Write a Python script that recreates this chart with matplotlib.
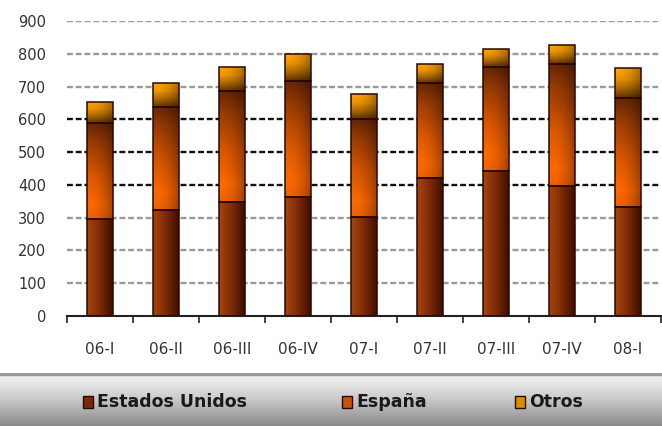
import numpy as np
import matplotlib
matplotlib.use("Agg")
import matplotlib.pyplot as plt
from matplotlib.colors import LinearSegmentedColormap
import matplotlib.patches as patches

# data (thousands)
quarters = ["06-I", "06-II", "06-III", "06-IV", "07-I", "07-II", "07-III", "07-IV", "08-I"]
estados_unidos = [296, 323, 349, 364, 303, 420, 442, 397, 333]
espana = [292, 315, 337, 353, 298, 292, 317, 373, 332]
otros = [66, 72, 73, 82, 75, 57, 55, 56, 91]
series_names = ["Estados Unidos", "España", "Otros"]
yticks = [0, 100, 200, 300, 400, 500, 600, 700, 800, 900]

W, H = 662, 426
fig = plt.figure(figsize=(W / 100, H / 100), dpi=100)
ax = fig.add_axes([67 / W, 1 - 316 / H, 594 / W, 295 / H])

# gradient colormaps
cm_us = LinearSegmentedColormap.from_list("us", ["#a8440f", "#7c2a06", "#3c0f00"])
cm_es = LinearSegmentedColormap.from_list(
    "es", [(0, "#f06200"), (0.15, "#ff6a00"), (0.45, "#dc5800"), (0.8, "#9a3c04"), (1, "#6a2604")])
cm_ot = LinearSegmentedColormap.from_list("ot", ["#5e3400", "#b06a00", "#f09600", "#ffa800"])


def fill_gradient(bars, cmap, horizontal):
    n = 64
    ramp = np.linspace(0, 1, n)
    if horizontal:
        rgb = cmap(np.tile(ramp, (n, 1)))[..., :3]
    else:
        rgb = cmap(np.tile(ramp[:, np.newaxis], (1, n)))[..., :3]
        # slight darkening towards the right edge
        shade = 1.0 - 0.35 * ramp ** 2
        rgb = rgb * shade[np.newaxis, :, np.newaxis]
    for b in bars:
        x, y = b.get_x(), b.get_y()
        w, h = b.get_width(), b.get_height()
        im = ax.imshow(rgb, extent=[x, x + w, y, y + h], origin="lower",
                       aspect="auto", zorder=2, interpolation="bilinear")
        im.set_clip_path(b)


x = np.arange(len(quarters))
width = 0.39
us = np.array(estados_unidos)
es = np.array(espana)
ot = np.array(otros)

b1 = ax.bar(x, us, width, facecolor="none", edgecolor="#2a0800", linewidth=1.1, zorder=3)
b2 = ax.bar(x, es, width, bottom=us, facecolor="none", edgecolor="#2a0800", linewidth=1.1, zorder=3)
b3 = ax.bar(x, ot, width, bottom=us + es, facecolor="none", edgecolor="#2a0800", linewidth=1.1, zorder=3)
fill_gradient(b1, cm_us, True)
fill_gradient(b2, cm_es, False)
fill_gradient(b3, cm_ot, False)

# dashed grid
for v in yticks[1:]:
    c = "#111111" if v in (400, 500, 600) else "#9a9a9a"
    ax.axhline(v, color=c, linestyle=(0, (2.5, 1.2)), linewidth=1.7, zorder=1)

ax.set_xlim(-0.5, len(quarters) - 0.5)
ax.set_ylim(0, 900)
ax.set_yticks(yticks)
ax.tick_params(axis="y", length=0, pad=15, labelsize=10.5, labelcolor="#333333")
ax.set_xticks(x)
ax.set_xticklabels(quarters)
ax.tick_params(axis="x", length=0, pad=19, labelsize=11, labelcolor="#333333")
ax.set_xticks(np.arange(len(quarters) + 1) - 0.5, minor=True)
ax.tick_params(axis="x", which="minor", length=5, width=1.2, color="#222222", direction="out")
for s in ["left", "right", "top"]:
    ax.spines[s].set_visible(False)
ax.spines["bottom"].set_linewidth(1.5)
ax.spines["bottom"].set_color("#222222")

# legend band with gray gradient
band_top = 373
lax = fig.add_axes([0, 0, 1, (H - band_top) / H])
band = np.linspace(0, 1, 64)[:, np.newaxis]
band_cm = LinearSegmentedColormap.from_list("band", ["#8a8a8a", "#c8c8c8", "#f8f8f8"])
lax.imshow(band, cmap=band_cm, extent=[0, 1, 0, 1], origin="lower", aspect="auto")
lax.set_xlim(0, 1)
lax.set_ylim(0, 1)
lax.axhline(0.985, color="#9a9a9a", linewidth=2.5)
lax.axis("off")

legend_x = [83, 342, 515]
legend_cols = ["#7a2a08", "#c8520a", "#d88e00"]
ly = 402
for name, lx, col in zip(series_names, legend_x, legend_cols):
    rect = patches.Rectangle((lx / W, 1 - (ly + 6) / H), 10 / W, 12 / H,
                             transform=fig.transFigure, facecolor=col,
                             edgecolor="#2a0800", linewidth=1.0)
    fig.patches.append(rect)
    fig.text((lx + 14) / W, 1 - ly / H, name, fontsize=12.5, fontweight="bold",
             color="#1a1a1a", va="center", ha="left")

fig.savefig("out.png", dpi=100)
